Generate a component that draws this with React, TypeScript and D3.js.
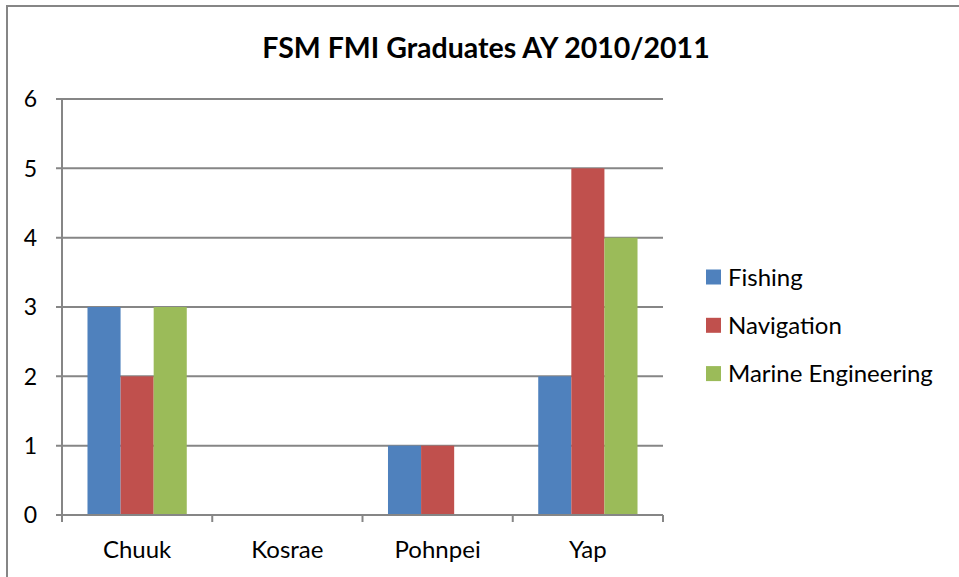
import React from "react";
import * as d3 from "d3";

const categories = ["Chuuk", "Kosrae", "Pohnpei", "Yap"];
const seriesNames = ["Fishing", "Navigation", "Marine Engineering"];
const fishing = [3, 0, 1, 2];
const navigation = [2, 0, 1, 5];
const marineEngineering = [3, 0, 0, 4];
const yTicks = [0, 1, 2, 3, 4, 5, 6];

const colors = ["#4F81BD", "#C0504D", "#9BBB59"];
const FONT = "Lato, Carlito, 'Open Sans', sans-serif";

const App = () => {
  const width = 959;
  const height = 577;
  const plot = { left: 62, right: 663, top: 99, bottom: 515 };
  const series = [fishing, navigation, marineEngineering];

  const x = d3
    .scaleBand<string>()
    .domain(categories)
    .range([plot.left, plot.right])
    .paddingInner(0)
    .paddingOuter(0);

  const inner = d3
    .scaleBand<string>()
    .domain(seriesNames)
    .range([0, x.bandwidth()])
    .paddingInner(0)
    .paddingOuter(0.77);

  const y = d3.scaleLinear().domain([0, 6]).range([plot.bottom, plot.top]);

  const grid = "#868686";
  const boundaries = [...categories.map((c) => x(c) as number), plot.right];

  return (
    <svg
      width={width}
      height={height}
      style={{ position: "absolute", left: 0, top: 0, background: "#fff" }}
    >
      <rect x={0} y={0} width={width} height={height} fill="#fff" />
      {/* outer frame (cropped on right/bottom) */}
      <rect x={7} y={6} width={width + 20} height={height + 20} fill="none" stroke={grid} strokeWidth={2} />

      <text
        x={486}
        y={58}
        textAnchor="middle"
        fontFamily={FONT}
        fontWeight="bold"
        fontSize={28.5}
        fill="#000"
      >
        FSM FMI Graduates AY 2010/2011
      </text>

      {/* gridlines + y ticks */}
      {yTicks.map((t) => (
        <g key={t}>
          <line x1={plot.left - 6} x2={plot.right} y1={y(t)} y2={y(t)} stroke={grid} strokeWidth={2} />
          <text
            x={37}
            y={y(t)}
            dy="0.36em"
            textAnchor="end"
            fontFamily={FONT}
            fontSize={23}
            fill="#000"
          >
            {t}
          </text>
        </g>
      ))}

      {/* bars */}
      {categories.map((c, i) => (
        <g key={c}>
          {series.map((s, j) =>
            s[i] > 0 ? (
              <rect
                key={j}
                x={(x(c) as number) + (inner(seriesNames[j]) as number)}
                y={y(s[i])}
                width={inner.bandwidth()}
                height={y(0) - y(s[i])}
                fill={colors[j]}
              />
            ) : null
          )}
        </g>
      ))}

      {/* axes */}
      <line x1={plot.left} x2={plot.left} y1={plot.top} y2={plot.bottom} stroke={grid} strokeWidth={2} />
      <line x1={plot.left} x2={plot.right} y1={plot.bottom} y2={plot.bottom} stroke={grid} strokeWidth={2} />
      {boundaries.map((b, i) => (
        <line key={i} x1={b} x2={b} y1={plot.bottom} y2={plot.bottom + 7} stroke={grid} strokeWidth={2} />
      ))}
      {categories.map((c) => (
        <text
          key={c}
          x={(x(c) as number) + x.bandwidth() / 2}
          y={558}
          textAnchor="middle"
          fontFamily={FONT}
          fontSize={24}
          fill="#000"
        >
          {c}
        </text>
      ))}

      {/* legend */}
      {seriesNames.map((n, j) => (
        <g key={n} transform={`translate(706,${277 + j * 48.3})`}>
          <rect x={0} y={-7.5} width={15} height={15} fill={colors[j]} />
          <text x={22} y={0} dy="0.36em" fontFamily={FONT} fontSize={24} fill="#000">
            {n}
          </text>
        </g>
      ))}
    </svg>
  );
};

export default App;
